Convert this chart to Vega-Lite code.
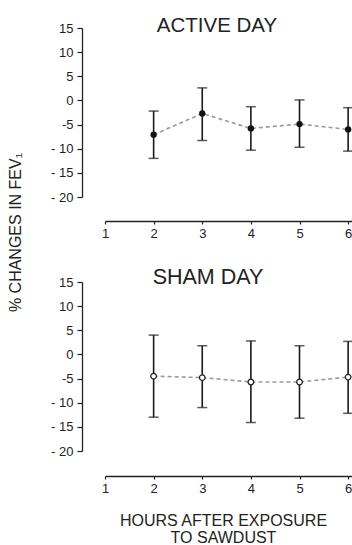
{
  "$schema": "https://vega.github.io/schema/vega-lite/v6.json",
  "background": "white",
  "padding": {"left": 7, "top": 15, "right": 0, "bottom": 0},
  "bounds": "flush",
  "spacing": 85,
  "data": {"values": [
    {"panel": "ACTIVE DAY", "hour": 2, "mean": -7.1, "lo": -12.0, "hi": -2.2},
    {"panel": "ACTIVE DAY", "hour": 3, "mean": -2.7, "lo": -8.3, "hi": 2.6},
    {"panel": "ACTIVE DAY", "hour": 4, "mean": -5.8, "lo": -10.3, "hi": -1.3},
    {"panel": "ACTIVE DAY", "hour": 5, "mean": -4.9, "lo": -9.7, "hi": 0.1},
    {"panel": "ACTIVE DAY", "hour": 6, "mean": -6.0, "lo": -10.5, "hi": -1.5},
    {"panel": "SHAM DAY", "hour": 2, "mean": -4.5, "lo": -13.0, "hi": 4.0},
    {"panel": "SHAM DAY", "hour": 3, "mean": -4.8, "lo": -11.0, "hi": 1.8},
    {"panel": "SHAM DAY", "hour": 4, "mean": -5.7, "lo": -14.1, "hi": 2.8},
    {"panel": "SHAM DAY", "hour": 5, "mean": -5.7, "lo": -13.2, "hi": 1.8},
    {"panel": "SHAM DAY", "hour": 6, "mean": -4.7, "lo": -12.2, "hi": 2.7}
  ]},
  "vconcat": [
    {
      "width": 248,
      "height": 169,
      "title": {"text": "ACTIVE DAY", "anchor": "middle", "frame": "group", "dx": -12, "dy": 28, "offset": -2, "baseline": "alphabetic", "fontSize": 20.5},
      "transform": [{"filter": "datum.panel == 'ACTIVE DAY'"}],
      "encoding": {
        "x": {"field": "hour", "type": "quantitative", "scale": {"domain": [1, 6.1], "nice": false},
              "axis": {"values": [1, 2, 3, 4, 5, 6], "offset": 24, "tickSize": 3, "labelPadding": 3, "title": null, "labelFlush": false}},
        "y": {"field": "mean", "type": "quantitative", "scale": {"domain": [-20, 15], "nice": false, "zero": false},
           "axis": {"values": [-20, -15, -10, -5, 0, 5, 10, 15], "tickCount": 8, "offset": 23, "tickSize": 5, "labelPadding": 4, "labelOverlap": false,
             "labelExpr": "datum.value <= -10 ? '- ' + abs(datum.value) : datum.value == -5 ? '-5' : datum.label",
             "title": "% CHANGES IN FEV₁", "titleX": -62, "titleY": 204, "titleAngle": -90, "titleAlign": "center", "titleBaseline": "alphabetic", "titleFontSize": 16}}
      },
      "layer": [
        {"mark": {"type": "line", "color": "#9a9a9a", "strokeDash": [4, 3], "strokeWidth": 1.6}},
        {"mark": {"type": "rule", "color": "#1a1a1a", "strokeWidth": 1.6},
         "encoding": {"y": {"field": "lo", "type": "quantitative"}, "y2": {"field": "hi"}}},
        {"mark": {"type": "tick", "orient": "horizontal", "size": 10, "thickness": 1.5, "color": "#1a1a1a"},
         "encoding": {"y": {"field": "lo", "type": "quantitative"}}},
        {"mark": {"type": "tick", "orient": "horizontal", "size": 10, "thickness": 1.5, "color": "#1a1a1a"},
         "encoding": {"y": {"field": "hi", "type": "quantitative"}}},
        {"mark": {"type": "point", "filled": true, "color": "#111", "size": 40, "opacity": 1}}
      ]
    },
    {
      "width": 248,
      "height": 169,
      "title": {"text": "SHAM DAY", "anchor": "middle", "frame": "group", "dx": -21, "dy": 29, "offset": 0, "baseline": "alphabetic", "fontSize": 21.5},
      "transform": [{"filter": "datum.panel == 'SHAM DAY'"}],
      "encoding": {
        "x": {"field": "hour", "type": "quantitative", "scale": {"domain": [1, 6.1], "nice": false},
              "axis": {"values": [1, 2, 3, 4, 5, 6], "offset": 25, "tickSize": 3, "labelPadding": 3, "labelFlush": false,
                "title": ["HOURS AFTER EXPOSURE", "TO SAWDUST"], "titleX": 118, "titleY": 49, "titleAlign": "center", "titleBaseline": "alphabetic", "titleFontSize": 16, "titleLineHeight": 17}},
        "y": {"field": "mean", "type": "quantitative", "scale": {"domain": [-20, 15], "nice": false, "zero": false},
           "axis": {"values": [-20, -15, -10, -5, 0, 5, 10, 15], "tickCount": 8, "offset": 23, "tickSize": 5, "labelPadding": 4, "labelOverlap": false,
             "labelExpr": "datum.value <= -10 ? '- ' + abs(datum.value) : datum.value == -5 ? '-5' : datum.label",
             "title": null}}
      },
      "layer": [
        {"mark": {"type": "line", "color": "#9a9a9a", "strokeDash": [4, 3], "strokeWidth": 1.6}},
        {"mark": {"type": "rule", "color": "#1a1a1a", "strokeWidth": 1.6},
         "encoding": {"y": {"field": "lo", "type": "quantitative"}, "y2": {"field": "hi"}}},
        {"mark": {"type": "tick", "orient": "horizontal", "size": 10, "thickness": 1.5, "color": "#1a1a1a"},
         "encoding": {"y": {"field": "lo", "type": "quantitative"}}},
        {"mark": {"type": "tick", "orient": "horizontal", "size": 10, "thickness": 1.5, "color": "#1a1a1a"},
         "encoding": {"y": {"field": "hi", "type": "quantitative"}}},
        {"mark": {"type": "point", "filled": true, "fill": "white", "stroke": "#222", "strokeWidth": 1.3, "size": 32, "opacity": 1}}
      ]
    }
  ],
  "config": {
    "view": {"stroke": null},
    "axis": {"grid": false, "domainColor": "#222", "tickColor": "#222", "labelColor": "#222", "labelFont": "Liberation Sans", "labelFontSize": 13,
             "domainWidth": 1.3, "tickWidth": 1.2, "titleFont": "Liberation Sans", "titleFontWeight": "normal", "titleColor": "#222"},
    "title": {"font": "Liberation Sans", "fontSize": 20, "fontWeight": "normal", "color": "#222"}
  }
}
